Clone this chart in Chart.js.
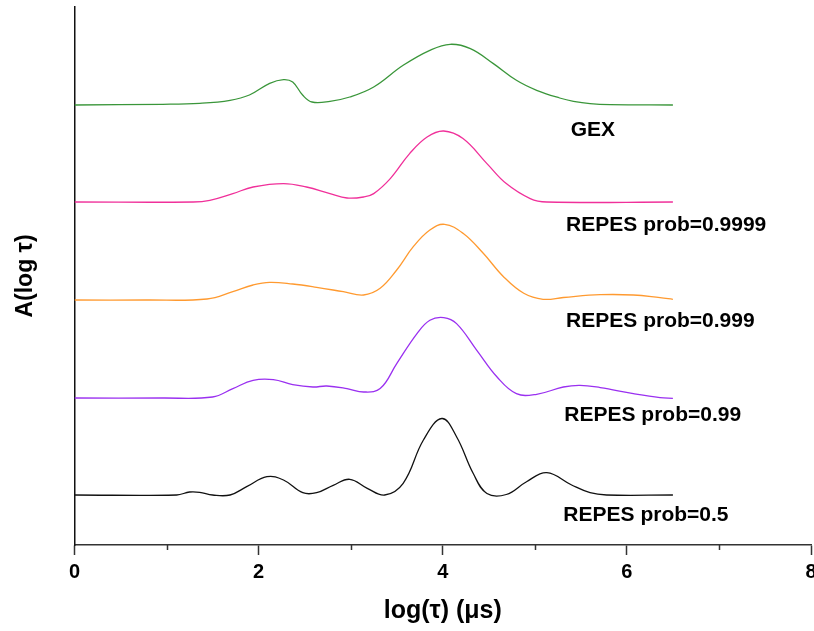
<!DOCTYPE html>
<html>
<head>
<meta charset="utf-8">
<script src="https://cdn.jsdelivr.net/npm/chart.js@4/dist/chart.umd.min.js"></script>
<style>
  html, body { margin: 0; padding: 0; background: #fff; }
  #wrap { width: 814px; height: 631px; }
</style>
</head>
<body>
<div id="wrap"><canvas id="c" width="814" height="631"></canvas></div>
<script>
// ---- data (log(tau) positions and A(log tau) amplitudes above each curve's baseline) ----
const seriesNames = ["GEX", "REPES prob=0.9999", "REPES prob=0.999", "REPES prob=0.99", "REPES prob=0.5"];
const baselines = [440, 343, 245, 147, 50];

const gexX = [0, 0.96, 1.36, 1.69, 1.9, 2.12, 2.27, 2.37, 2.48, 2.58, 2.775, 2.99, 3.25, 3.57, 3.86, 4.08, 4.3, 4.55, 4.8, 5.02, 5.27, 5.42, 5.6, 5.82, 6.5];
const gexA = [0, 0.7, 1.7, 4.7, 10, 21.7, 25.4, 23, 9.7, 3, 3.7, 8, 18, 39.7, 54.7, 60.7, 56.4, 41.4, 24.7, 14.7, 7, 3.7, 1.4, 0.4, 0];

const p9999X = [0, 1.29, 1.47, 1.72, 1.94, 2.27, 2.52, 2.775, 2.96, 3.14, 3.25, 3.43, 3.64, 3.83, 4.01, 4.22, 4.48, 4.69, 4.95, 5.13, 6.5];
const p9999A = [0, 0, 1.7, 8.4, 15, 18.4, 15, 8.4, 4, 5, 8.4, 23.4, 48.4, 65, 71, 63.4, 38.4, 18.4, 3.4, 0, 0];

const p999X = [0, 0.78, 1.44, 1.72, 1.94, 2.12, 2.37, 2.63, 2.92, 3.14, 3.32, 3.5, 3.68, 3.86, 4.02, 4.22, 4.44, 4.66, 4.88, 5.09, 5.31, 5.71, 6.07, 6.36, 6.5];
const p999A = [0, 0, 1, 8.3, 15, 17.7, 16, 12.7, 8.3, 5, 11.7, 30, 53.3, 70, 75.7, 66.7, 46.7, 23.3, 6.7, 0.7, 2.5, 5.3, 5, 2.3, 0.7];

const p99X = [0, 0.96, 1.5, 1.72, 1.94, 2.16, 2.37, 2.59, 2.74, 2.96, 3.14, 3.32, 3.5, 3.72, 3.86, 4.01, 4.15, 4.37, 4.59, 4.8, 5.02, 5.31, 5.49, 5.71, 6.07, 6.36, 6.5];
const p99A = [0, 0, 1, 9.4, 17.7, 18.4, 13.4, 11, 12, 9.4, 6, 9.4, 34.4, 64.4, 77.7, 80.4, 74.4, 47.7, 21, 4.4, 3.7, 11, 12.7, 10.4, 4.4, 0.4, -0.3];

const p5X = [0, 1.11, 1.25, 1.36, 1.5, 1.69, 1.87, 2.09, 2.27, 2.48, 2.63, 2.81, 2.99, 3.18, 3.37, 3.57, 3.79, 3.99, 4.15, 4.33, 4.48, 4.69, 4.91, 5.13, 5.4, 5.6, 5.78, 6.5];
const p5A = [0, 0, 3, 2.7, 0, 0, 8.3, 18.3, 15, 2.3, 2.3, 9.7, 15.7, 6.7, 0, 11.7, 55, 76.5, 58.3, 21.7, 1.5, 0.5, 13.3, 22.3, 10, 2.3, 0, 0];

const xTicks = [0, 2, 4, 6, 8];
const xMinorTicks = [1, 3, 5, 7];

// ---- styling ----
const colors = ["#3a963a", "#f0309a", "#ff9a30", "#9a30f0", "#111111"];
const xsAll = [gexX, p9999X, p999X, p99X, p5X];
const asAll = [gexA, p9999A, p999A, p99A, p5A];
// label anchor (left x in log tau, vertical offset below baseline)
const labelPos = [[5.39, -25], [5.34, -23], [5.34, -21], [5.32, -17], [5.31, -20]];

const datasets = seriesNames.map((name, i) => ({
  label: name,
  data: xsAll[i].map((x, k) => ({ x: x, y: baselines[i] + asAll[i][k] })),
  borderColor: colors[i],
  borderWidth: 1.3,
  pointRadius: 0,
  fill: false,
  tension: 0.4
}));

const annotatePlugin = {
  id: 'annot',
  afterDatasetsDraw(chart) {
    const ctx = chart.ctx;
    const xs = chart.scales.x, ys = chart.scales.y;
    ctx.save();
    // minor ticks
    ctx.strokeStyle = '#333';
    ctx.lineWidth = 1.5;
    const yb = chart.chartArea.bottom;
    xMinorTicks.forEach(v => {
      const px = Math.round(xs.getPixelForValue(v)) + 0.5;
      ctx.beginPath();
      ctx.moveTo(px, yb);
      ctx.lineTo(px, yb + 5);
      ctx.stroke();
    });
    // series labels
    ctx.fillStyle = '#000';
    ctx.font = 'bold 21px "Liberation Sans", Arial, sans-serif';
    ctx.textAlign = 'left';
    ctx.textBaseline = 'middle';
    seriesNames.forEach((name, i) => {
      const px = xs.getPixelForValue(labelPos[i][0]);
      const py = ys.getPixelForValue(baselines[i] + labelPos[i][1]);
      ctx.fillText(name, px, py);
    });
    ctx.restore();
  }
};

new Chart(document.getElementById('c'), {
  type: 'line',
  data: { datasets: datasets },
  options: {
    responsive: false,
    animation: false,
    layout: { padding: { left: 0, right: 3, top: 7, bottom: 0 } },
    plugins: { legend: { display: false }, tooltip: { enabled: false } },
    scales: {
      x: {
        type: 'linear',
        min: 0, max: 8,
        afterBuildTicks: s => { s.ticks = xTicks.map(v => ({ value: v })); },
        afterFit: s => { s.height = 86; s.paddingLeft = 0; s.paddingRight = 0; },
        grid: { drawOnChartArea: false, drawTicks: true, tickLength: 10, tickWidth: 1.5, tickColor: '#333' },
        border: { display: true, color: '#333', width: 1.5 },
        ticks: {
          padding: 5,
          color: '#000',
          maxRotation: 0,
          font: { family: '"Liberation Sans", Arial, sans-serif', size: 20, weight: 'bold' }
        },
        title: {
          display: true,
          text: 'log(τ) (μs)',
          color: '#000',
          padding: { top: 5, bottom: 5 },
          font: { family: '"Liberation Sans", Arial, sans-serif', size: 25, weight: 'bold' }
        }
      },
      y: {
        type: 'linear',
        min: 0, max: 538,
        afterFit: s => { s.width = 74.5; },
        grid: { drawOnChartArea: false, drawTicks: false },
        border: { display: true, color: '#111', width: 1.5 },
        ticks: { display: false },
        title: {
          display: true,
          text: 'A(log τ)',
          color: '#000',
          padding: { top: 12, bottom: 0 },
          font: { family: '"Liberation Sans", Arial, sans-serif', size: 23, weight: 'bold' }
        }
      }
    }
  },
  plugins: [annotatePlugin]
});
</script>
</body>
</html>
